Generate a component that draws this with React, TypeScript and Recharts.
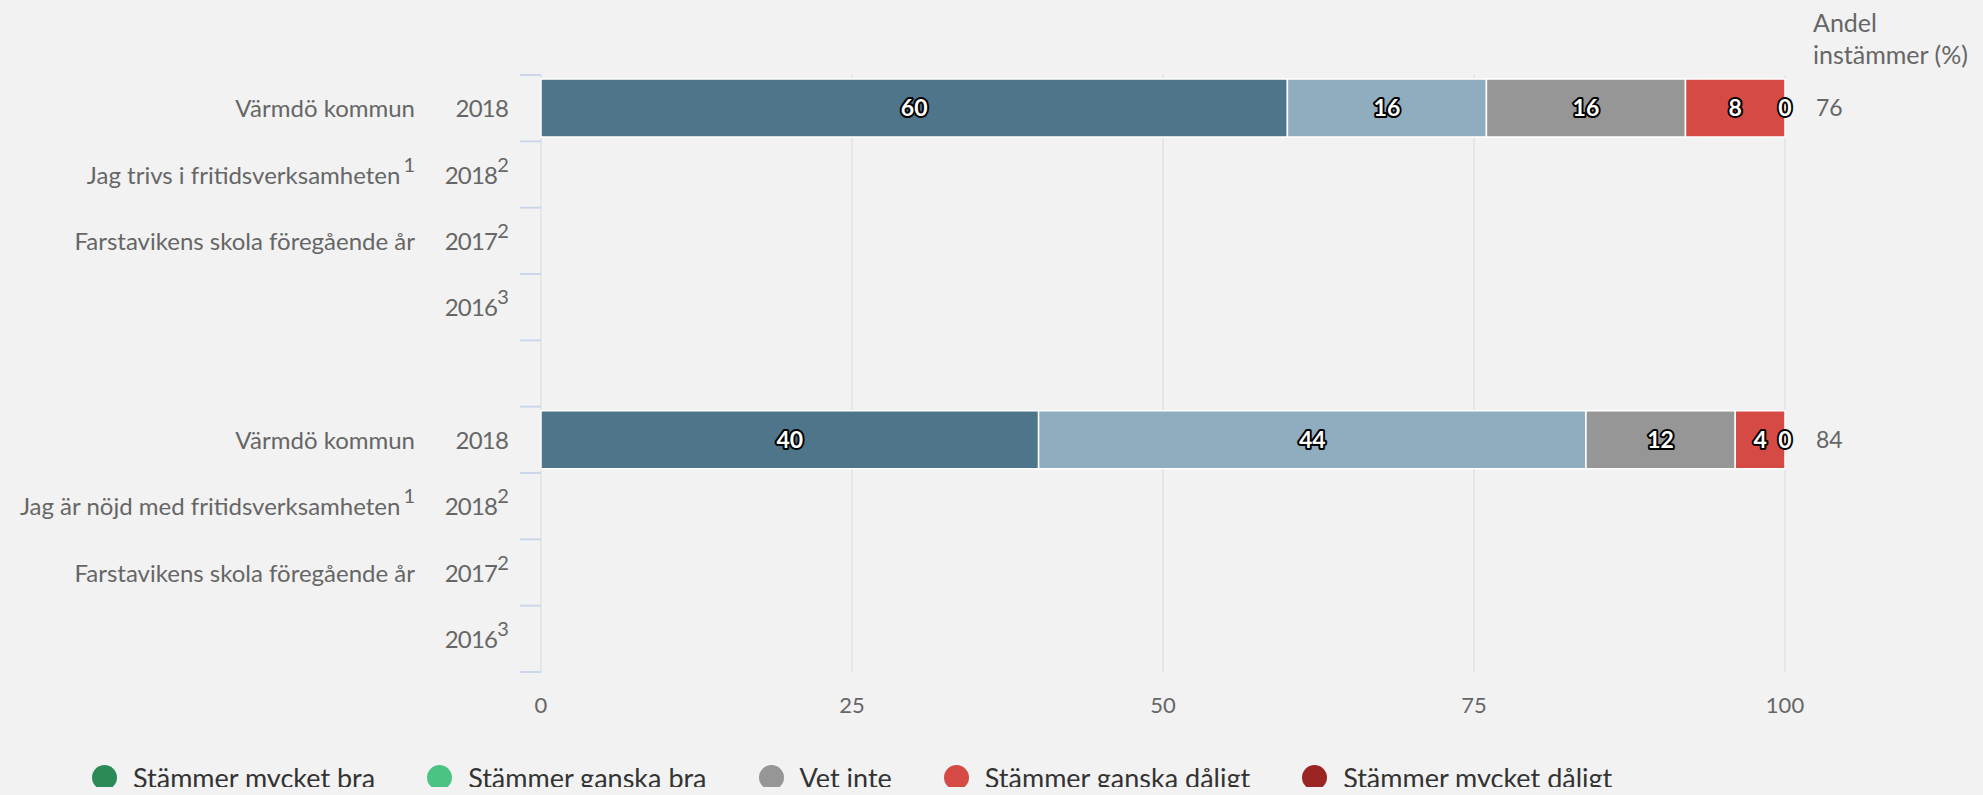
import React from 'react';
import { BarChart, Bar, XAxis, YAxis, CartesianGrid, LabelList } from 'recharts';

// ---- data ----
const rowKeys = ['a1', 'a2', 'a3', 'a4', 'gap', 'b1', 'b2', 'b3', 'b4'];
const rowNames = [
  'Värmdö kommun',
  'Jag trivs i fritidsverksamheten',
  'Farstavikens skola föregående år',
  '',
  '',
  'Värmdö kommun',
  'Jag är nöjd med fritidsverksamheten',
  'Farstavikens skola föregående år',
  '',
];
const rowNameSups = ['', '1', '', '', '', '', '1', '', ''];
const rowYears = ['2018', '2018', '2017', '2016', '', '2018', '2018', '2017', '2016'];
const rowYearSups = ['', '2', '2', '3', '', '', '2', '2', '3'];

const seriesNames = [
  'Stämmer mycket bra',
  'Stämmer ganska bra',
  'Vet inte',
  'Stämmer ganska dåligt',
  'Stämmer mycket dåligt',
];
const mycketBra = [60, null, null, null, null, 40, null, null, null];
const ganskaBra = [16, null, null, null, null, 44, null, null, null];
const vetInte = [16, null, null, null, null, 12, null, null, null];
const ganskaDaligt = [8, null, null, null, null, 4, null, null, null];
const mycketDaligt = [0, null, null, null, null, 0, null, null, null];
const andelInstammer = [76, null, null, null, null, 84, null, null, null];
const xTicks = [0, 25, 50, 75, 100];
const andelTitle = ['Andel', 'instämmer (%)'];

const barColors = ['#4f758b', '#8fadbf', '#969696', '#d54a45', '#9b2626'];
const legendColors = ['#2b8a57', '#4bc483', '#969696', '#d54a45', '#9a2523'];

const seriesKeys = ['s0', 's1', 's2', 's3', 's4'];
const seriesValues = [mycketBra, ganskaBra, vetInte, ganskaDaligt, mycketDaligt];

const data = rowKeys.map((key, i) => {
  const row: any = { key, andel: andelInstammer[i] };
  seriesKeys.forEach((sk, j) => {
    row[sk] = seriesValues[j][i];
  });
  return row;
});

if (typeof document !== 'undefined') {
  document.body.style.background = '#f2f2f2';
}

// ---- layout ----
const W = 1967;
const H = 779;
const M_TOP = 67;
const M_BOTTOM = 65;
const X_AXIS_H = 50;
const PLOT_H = H - M_TOP - M_BOTTOM - X_AXIS_H;
const BAND = PLOT_H / rowKeys.length;
const FONT = 'Lato, "Open Sans", sans-serif';

function LeftTick(props: any) {
  const { x, y, payload } = props;
  const i = rowKeys.indexOf(payload.value);
  if (i < 0 || rowKeys[i] === 'gap') return null;
  const top = y - BAND / 2;
  const bottom = y + BAND / 2;
  const lastInGroup = i === rowKeys.length - 1 || rowKeys[i + 1] === 'gap';
  return (
    <g>
      <line x1={x - 21} x2={x} y1={top} y2={top} stroke="#ccd6eb" strokeWidth={2} />
      {lastInGroup && <line x1={x - 21} x2={x} y1={bottom} y2={bottom} stroke="#ccd6eb" strokeWidth={2} />}
      {rowNames[i] && (
        <text x={x - 126} y={y + 9} textAnchor="end" fill="#666" fontSize={24} fontFamily={FONT}>
          {rowNames[i]}
          {rowNameSups[i] && (
            <tspan dx={3} dy={-12} fontSize={20}>
              {rowNameSups[i]}
            </tspan>
          )}
        </text>
      )}
      <text x={x - 33} y={y + 9} textAnchor="end" fill="#666" fontSize={24} fontFamily={FONT} letterSpacing={-0.8}>
        {rowYears[i]}
        {rowYearSups[i] && (
          <tspan dx={0} dy={-12} fontSize={20}>
            {rowYearSups[i]}
          </tspan>
        )}
      </text>
    </g>
  );
}

function RightTick(props: any) {
  const { x, y, payload } = props;
  const i = rowKeys.indexOf(payload.value);
  if (i < 0 || andelInstammer[i] == null) return null;
  return (
    <text x={x + 31} y={y + 8} fill="#666" fontSize={23} fontFamily={FONT}>
      {andelInstammer[i]}
    </text>
  );
}

function AndelTitle(props: any) {
  const vb = props.viewBox || {};
  const x = (vb.x ?? 0) + 28;
  const y = vb.y ?? M_TOP;
  return (
    <text x={x} y={y - 43} fill="#666" fontSize={25} fontFamily={FONT}>
      {andelTitle.map((t, k) => (
        <tspan key={k} x={x} dy={k === 0 ? 0 : 32}>
          {t}
        </tspan>
      ))}
    </text>
  );
}

function XTick(props: any) {
  const { x, y, payload } = props;
  return (
    <text x={x} y={y + 41} textAnchor="middle" fill="#666" fontSize={22} fontFamily={FONT}>
      {payload.value}
    </text>
  );
}

function labelText(cx: number, cy: number, value: any) {
  return (
    <text
      x={cx}
      y={cy + 8}
      textAnchor="middle"
      fill="#fff"
      stroke="#000"
      strokeWidth={4}
      strokeLinejoin="round"
      paintOrder="stroke"
      fontSize={23}
      fontWeight={700}
      fontFamily={FONT}
    >
      {value}
    </text>
  );
}

const renderLabel = (props: any) => {
  const { x, y, width, height, value } = props;
  if (value === null || value === undefined || value === 0) return null;
  return labelText(Number(x) + Number(width) / 2, Number(y) + Number(height) / 2, value);
};

// zero-valued segment at the end of the stack: its label sits where the previous segment ends
const renderEndZeroLabel = (props: any) => {
  const { x, y, width, height, value } = props;
  if (value !== 0) return null;
  return labelText(Number(x) + Number(width), Number(y) + Number(height) / 2, value);
};

export default function App() {
  return (
    <div style={{ position: 'relative', width: W, height: H, background: '#f2f2f2' }}>
      <BarChart
        width={W}
        height={H}
        data={data}
        layout="vertical"
        margin={{ top: M_TOP, right: 0, bottom: M_BOTTOM, left: 0 }}
        style={{ background: '#f2f2f2' }}
      >
        <CartesianGrid horizontal={false} vertical stroke="#e6e6e6" strokeWidth={2} yAxisId="left" />
        <XAxis
          type="number"
          domain={[0, 100]}
          ticks={xTicks}
          axisLine={false}
          tickLine={false}
          tickSize={0}
          tickMargin={0}
          height={X_AXIS_H}
          tick={<XTick />}
          interval={0}
        />
        <YAxis
          yAxisId="left"
          type="category"
          dataKey="key"
          width={533}
          axisLine={false}
          tickLine={false}
          tickSize={0}
          tickMargin={0}
          tick={<LeftTick />}
          interval={0}
        />
        <YAxis
          yAxisId="right"
          orientation="right"
          type="category"
          dataKey="key"
          width={190}
          axisLine={false}
          tickLine={false}
          tickSize={0}
          tickMargin={0}
          tick={<RightTick />}
          interval={0}
          label={{ content: AndelTitle }}
        />
        {seriesKeys.map((sk, j) => (
          <Bar
            key={sk}
            yAxisId="left"
            dataKey={sk}
            name={seriesNames[j]}
            stackId="a"
            fill={barColors[j]}
            stroke="#fff"
            strokeWidth={1.5}
            barSize={58}
            isAnimationActive={false}
          >
            <LabelList dataKey={sk} content={renderLabel} />
            {j === seriesKeys.length - 2 && (
              <LabelList dataKey={seriesKeys[j + 1]} content={renderEndZeroLabel} />
            )}
          </Bar>
        ))}
      </BarChart>
      <div
        style={{
          position: 'absolute',
          left: 84,
          top: 753,
          height: 32,
          display: 'flex',
          alignItems: 'center',
          gap: 52,
          fontFamily: FONT,
          fontSize: 27,
          color: '#333',
        }}
      >
        {seriesNames.map((n, j) => (
          <div key={n} style={{ display: 'flex', alignItems: 'center', gap: 16 }}>
            <div style={{ width: 25, height: 25, borderRadius: '50%', background: legendColors[j] }} />
            <span style={{ whiteSpace: 'nowrap' }}>{n}</span>
          </div>
        ))}
      </div>
    </div>
  );
}
